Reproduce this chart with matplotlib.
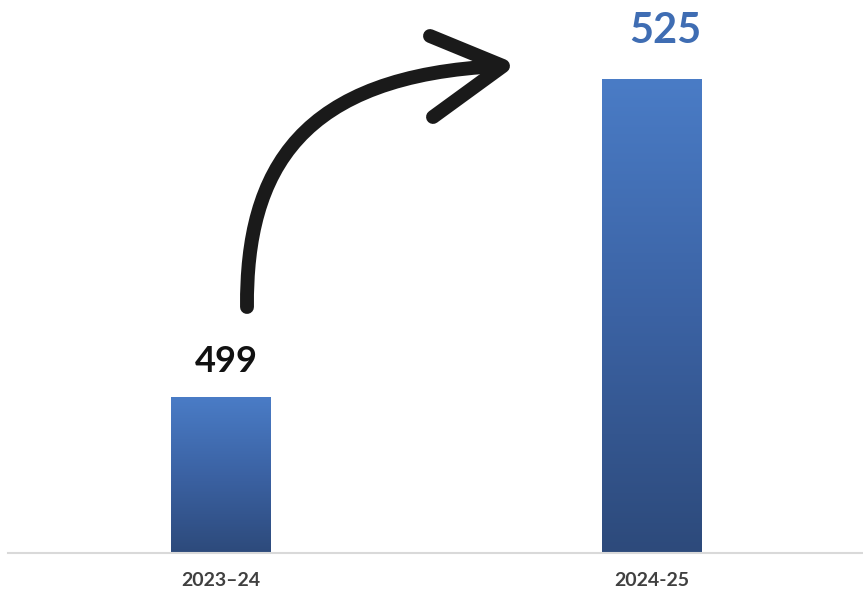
import numpy as np
import matplotlib as mpl
mpl.use('Agg')
import matplotlib.pyplot as plt
from matplotlib.path import Path
from matplotlib.patches import PathPatch
from matplotlib.colors import LinearSegmentedColormap

plt.rcParams['font.family'] = ['Lato', 'DejaVu Sans']

years = ['2023\u201324', '2024-25']
counts = [499, 525]
label_colors = ['#111111', '#3f6db3']
label_sizes = [26, 30]

W, H = 863, 601
fig = plt.figure(figsize=(W / 100, H / 100), dpi=100)
ax = fig.add_axes([8 / W, 1 - 553 / H, 1 - 8 / W, 553 / H])

x = np.arange(len(counts))
bars = ax.bar(x, counts, width=0.232, bottom=0, color='none', edgecolor='none', zorder=2)

ax.set_xlim(-0.494, 1.49)
ax.set_ylim(486.25, 531.5)

# vertical blue gradient inside each bar
grad_cmap = LinearSegmentedColormap.from_list('bar', ['#2d4a7b', '#3b62a3', '#4a7cc6'])
grad = np.linspace(0, 1, 256).reshape(-1, 1)
for b in bars:
    x0, w = b.get_x(), b.get_width()
    im = ax.imshow(grad, cmap=grad_cmap, origin='lower', aspect='auto',
                   extent=[x0, x0 + w, ax.get_ylim()[0], b.get_height()], zorder=2)
    im.set_clip_path(b)
ax.set_xlim(-0.494, 1.49)
ax.set_ylim(486.25, 531.5)

for xi, v, c, s in zip(x, counts, label_colors, label_sizes):
    ax.annotate(str(v), (xi, v), xytext=(4 if xi == 0 else 10, 14 if xi == 0 else 21),
                textcoords='offset points', ha='center', va='bottom',
                fontsize=s, fontweight='bold', color=c)

for s in ['top', 'right', 'left']:
    ax.spines[s].set_visible(False)
ax.spines['bottom'].set_color('#d9d9d9')
ax.spines['bottom'].set_linewidth(1.5)
ax.set_yticks([])
ax.set_xticks(x)
ax.set_xticklabels(years, fontsize=14, fontweight='bold', color='#404040')
ax.tick_params(axis='x', length=0, pad=14)


# curved hand-drawn arrow, given in pixel positions
def px(pts):
    return [(a / W, 1 - b / H) for a, b in pts]


curve = Path(px([(247, 307), (246, 170), (300, 75), (501, 66)]),
             [Path.MOVETO, Path.CURVE4, Path.CURVE4, Path.CURVE4])
head = Path(px([(430, 36), (503, 66), (433, 117)]),
            [Path.MOVETO, Path.LINETO, Path.LINETO])
for p in (curve, head):
    fig.patches.append(PathPatch(p, transform=fig.transFigure, facecolor='none',
                                 edgecolor='#1a1a1a', linewidth=10,
                                 capstyle='round', joinstyle='round'))

fig.savefig('out.png', dpi=100)
